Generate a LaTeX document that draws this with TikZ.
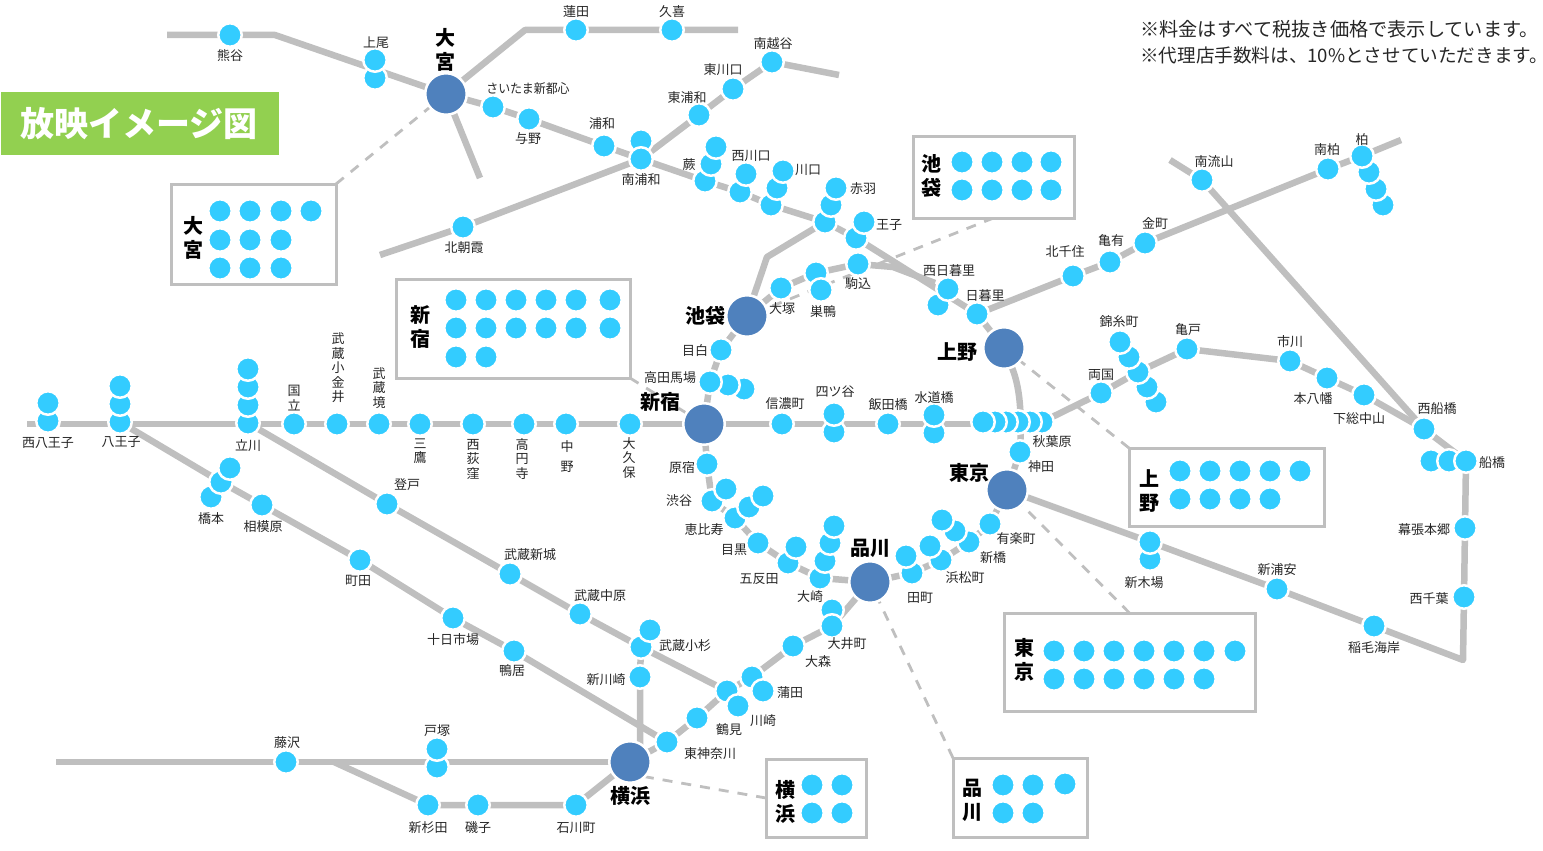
\documentclass[tikz,border=0pt]{standalone}
\usepackage{fontspec}
\setmainfont{Noto Sans CJK JP}
\usetikzlibrary{backgrounds}
\definecolor{railgray}{HTML}{BFBFBF}
\definecolor{dotblue}{HTML}{33CCFF}
\definecolor{hubblue}{HTML}{4F81BD}
\definecolor{titlegreen}{HTML}{92D050}
\tikzset{
 st/.style={circle,draw=white,line width=2.5pt,fill=dotblue,minimum size=23.5pt,inner sep=0pt,outer sep=0pt},
 hubn/.style={circle,draw=white,line width=2.5pt,fill=hubblue,minimum size=41.5pt,inner sep=0pt,outer sep=0pt},
 lab/.style={inner sep=0pt,outer sep=0pt,yshift=-1pt,text=black!85,font=\fontsize{13}{14.5}\selectfont,align=center},
 big/.style={inner sep=0pt,outer sep=0pt,text=black,font=\fontsize{20}{24}\selectfont\bfseries,align=center},
 rail/.style={draw=railgray,line width=6.5pt,line join=round},
 dashl/.style={draw=railgray,line width=2.8pt,dash pattern=on 10pt off 9pt},
 panel/.style={draw=railgray,line width=3pt,fill=white,inner sep=0pt,outer sep=0pt},
 notetext/.style={anchor=west,inner sep=0pt,text=black!85},
}
\begin{document}
\begin{tikzpicture}[x=1pt,y=-1pt]
\useasboundingbox (0,0) rectangle (1543,851);
% stations, lower dots of a stack first
\foreach \n/\x/\y in {
 kumagaya/230/35,ageoB/375/78,ageo/375/60,hasuda/576/30,kuki/672/30,
 saitama/493/107,yono/529/119,urawa/604/146,murB/641/141,mur/641/159,
 kitaasaka/463/227,higura/699/115,higawa/733/89,minkoshi/772/62,
 warA/705/181,warB/711/164,warC/716/147,nkwA/740/192,nkwB/746/174,
 kawA/771/205,kawB/777/188,kawC/783/171,akaA/825/222,akaB/831/205,akaC/836/188,
 ojiA/856/238,ojiB/864/222,komagome/858/264,sugaA/816/273,sugaB/821/290,otsuka/781/288,
 nnipB/938/305,nnipA/948/289,nippori/977/314,
 mejiro/721/350,takaC/744/389,takaB/728/385,takaA/710/382,
 shinano/782/424,yotsuB/834/432,yotsuA/834/414,iida/888/424,suiB/934/433,suiA/934/415,
 akiF/1042/422,akiE/1030/422,akiD/1018/422,akiC/1006/422,akiB/995/422,akiA/983/422,
 kanda/1020/452,
 kitasen/1073/276,kameari/1110/262,kanamachi/1145/243,minkashi/1328/169,
 kasD/1383/205,kasC/1376/189,kasB/1369/172,kasA/1362/156,nagare/1202/180,
 ryogoku/1101/393,kinE/1156/402,kinD/1147/387,kinC/1138/372,kinB/1129/357,kinA/1120/342,
 kameido/1187/349,ichikawa/1290/361,motoyawata/1327/378,shimosa/1364/395,nishifuna/1424/429,
 funaA/1431/461,funaB/1449/461,funaC/1466/461,makuhari/1465/528,nishichiba/1464/597,
 inage/1374/626,shinura/1277/589,kibaB/1150/559,kibaA/1150/542,
 yuraku/990/524,shinbA/969/542,shinbB/955/531,shinbC/942/520,hamaA/941/560,hamaB/930/546,
 tamaA/912/573,tamaB/906/556,osakiA/820/578,osakiB/825/561,osakiC/830/543,osakiD/834/526,
 gotaA/788/563,gotaB/796/547,meguro/758/543,ebiA/735/518,ebiB/749/507,ebiC/763/496,
 shibuA/712/501,shibuB/726/489,harajuku/707/464,
 oiA/832/610,oiB/832/626,omori/793/646,kamaA/752/677,kamaB/763/691,kawsA/727/691,kawsB/738/706,
 tsurumi/697/718,higashik/667/742,
 nishihaB/48/421,nishihaA/48/403,hachiC/120/422,hachiB/120/404,hachiA/120/386,
 tachiD/248/423,tachiC/248/405,tachiB/248/387,tachiA/248/369,
 kunitachi/294/424,koganei/337/424,sakai/379/424,mitaka/420/424,nishiogi/473/424,
 koenji/524/424,nakano/566/424,okubo/630/424,
 hashiA/211/497,hashiB/221/482,hashiC/230/468,sagami/262/505,machida/360/560,
 tokaichi/453/618,kamoi/514/651,noborito/387/504,shinjo/510/574,nakahara/580/614,
 kosugiA/641/647,kosugiB/650/630,shinkawa/640/677,
 fujisawa/286/762,totsuB/437/767,totsuA/437/749,sugita/428/805,isogo/478/805,ishikawa/576/805}{
 \node[st] (\n) at (\x,\y) {};
}
% hubs
\foreach \n/\x/\y in {omiya/446/94,ikebukuro/747/316,shinjuku/704/424,ueno/1004/348,
 tokyo/1007/490,shinagawa/870/582,yokohama/630/762}{
 \node[hubn] (\n) at (\x,\y) {};
}
% free ends and bends
\foreach \n/\x/\y in {kfree/167/35,kbend/275/35,hbend/525/30,hfree/738/30,sfree/480/178,
 afree/380/255,mfree/839/75,ibend/767/257,kmA/893/267,kmB/935/283,
 cA/1017/380,cB/1022/400,nfree/1170/160,kfreeE/1401/140,chfree/1463/660,
 mfreeL/27/424,mfreeR/1000/424,tfreeL/56/762,tbend/334/762,ybend/640/745}{
 \coordinate (\n) at (\x,\y);
}
% panels
\node[panel,minimum width=165pt,minimum height=100pt] (pomiya) at (253.5,234) {};
\node[panel,minimum width=161pt,minimum height=82pt] (pike) at (993.5,177) {};
\node[panel,minimum width=234pt,minimum height=99pt] (pshin) at (513,328.5) {};
\node[panel,minimum width=195pt,minimum height=78pt] (pueno) at (1226.5,487) {};
\node[panel,minimum width=251pt,minimum height=98pt] (ptokyo) at (1129.5,662) {};
\node[panel,minimum width=134pt,minimum height=79pt] (pshina) at (1020,797.5) {};
\node[panel,minimum width=100pt,minimum height=78pt] (pyoko) at (816,798) {};
\foreach \x/\y [count=\i] in {220/211,250/211,281/211,311/211,220/240,250/240,281/240,220/268,250/268,281/268}{\node[st] (da\i) at (\x,\y) {};}
\foreach \x/\y [count=\i] in {962/162,992/162,1022/162,1051/162,962/190,992/190,1022/190,1051/190}{\node[st] (db\i) at (\x,\y) {};}
\foreach \x/\y [count=\i] in {456/300,486/300,516/300,546/300,576/300,610/300,456/328,486/328,516/328,546/328,576/328,610/328,456/357,486/357}{\node[st] (dc\i) at (\x,\y) {};}
\foreach \x/\y [count=\i] in {1180/471,1210/471,1240/471,1270/471,1300/471,1180/499,1210/499,1240/499,1270/499}{\node[st] (dd\i) at (\x,\y) {};}
\foreach \x/\y [count=\i] in {1054/651,1084/651,1114/651,1144/651,1174/651,1204/651,1235/651,1054/679,1084/679,1114/679,1144/679,1174/679,1204/679}{\node[st] (de\i) at (\x,\y) {};}
\foreach \x/\y [count=\i] in {1003/785,1033/785,1065/784,1003/813,1033/813}{\node[st] (df\i) at (\x,\y) {};}
\foreach \x/\y [count=\i] in {812/785,842/785,812/813,842/813}{\node[st] (dg\i) at (\x,\y) {};}
% connectors behind
\begin{scope}[on background layer]
 \draw[dashl] (pomiya.north east) -- (omiya);
 \draw[dashl] (pike.south) -- (ikebukuro);
 \draw[dashl] (pshin.south east) -- (shinjuku);
 \draw[dashl] (pueno.north west) -- (ueno);
 \draw[dashl] (ptokyo.north) -- (tokyo);
 \draw[dashl] (pshina.north west) -- (shinagawa);
 \draw[dashl] (pyoko.west) -- (yokohama.south east);
 \draw[rail] (kfree) -- (kumagaya) -- (kbend) -- (omiya);
 \draw[rail] (omiya) -- (hbend) -- (hasuda) -- (kuki) -- (hfree);
 \draw[rail] (omiya) -- (sfree);
 \draw[rail] (omiya) -- (saitama) -- (yono) -- (urawa) -- (mur) -- (warA) -- (nkwA) -- (kawA) -- (akaA) -- (ojiA) -- (nippori) -- (ueno);
 \draw[rail] (afree) -- (kitaasaka) -- (mur) -- (higura) -- (higawa) -- (minkoshi) -- (mfree);
 \draw[rail] (akaA) -- (ibend) -- (ikebukuro);
 \draw[rail] (ikebukuro) -- (otsuka) -- (sugaA) -- (komagome) -- (kmA) -- (kmB);
 \draw[rail] (ikebukuro) -- (mejiro) -- (takaA) -- (shinjuku);
 \draw[rail] (mfreeL) -- (kunitachi) -- (koganei) -- (sakai) -- (mitaka) -- (nishiogi) -- (koenji) -- (nakano) -- (okubo) -- (shinjuku) -- (shinano) -- (iida) -- (mfreeR);
 \draw[rail] (akiF) -- (ryogoku) -- (kinC) -- (kameido) -- (ichikawa) -- (motoyawata) -- (shimosa) -- (nishifuna) -- (funaC) -- (makuhari) -- (nishichiba) -- (chfree) -- (inage) -- (shinura) -- (kibaA) -- (tokyo);
 \draw[rail] (nfree) -- (nagare) -- (nishifuna);
 \draw[rail] (nippori) -- (kitasen) -- (kameari) -- (kanamachi) -- (minkashi) -- (kasA) -- (kfreeE);
 \draw[rail] (ueno) .. controls (cA) and (cB) .. (kanda) -- (tokyo);
 \draw[rail] (tokyo) -- (yuraku) -- (shinbA) -- (hamaA) -- (tamaA) -- (shinagawa);
 \draw[rail] (shinagawa) -- (osakiA) -- (gotaA) -- (meguro) -- (ebiA) -- (shibuA) -- (harajuku) -- (shinjuku);
 \draw[rail] (shinagawa) -- (oiB) -- (omori) -- (kamaA) -- (kawsA) -- (tsurumi) -- (higashik) -- (yokohama);
 \draw[rail] (tachiD) -- (noborito) -- (shinjo) -- (nakahara) -- (kosugiA) -- (kawsA);
 \draw[rail] (hachiC) -- (hashiB) -- (sagami) -- (machida) -- (tokaichi) -- (kamoi) -- (higashik);
 \draw[rail] (kosugiA) -- (shinkawa) -- (ybend);
 \draw[rail] (tfreeL) -- (fujisawa) -- (yokohama);
 \draw[rail] (tbend) -- (sugita) -- (isogo) -- (ishikawa) -- (yokohama);
\end{scope}
% station labels
\foreach \n/\x/\y/\t in {
 a/230/55/熊谷,b/376/42/上尾,c/576/11/蓮田,d/672/11/久喜,f/528/138/与野,
 g/602/123/浦和,h/641/179/南浦和,i/464/247/北朝霞,j/773/43/南越谷,k/723/69/東川口,l/687/97/東浦和,
 m/689/164/蕨,n/751/155/西川口,o/808/169/川口,p/863/188/赤羽,q/889/224/王子,r/858/283/駒込,
 s/823/311/巣鴨,t/782/308/大塚,u/949/270/西日暮里,v/985/295/日暮里,w/695/350/目白,x/670/377/高田馬場,
 y/785/403/信濃町,z/835/391/四ツ谷,aa/888/404/飯田橋,ab/934/397/水道橋,ac/1052/441/秋葉原,ad/1041/466/神田,
 ae/1214/161/南流山,af/1327/149/南柏,ag/1362/139/柏,ah/1155/223/金町,ai/1111/240/亀有,aj/1065/251/北千住,
 ak/1119/321/錦糸町,al/1188/329/亀戸,am/1101/374/両国,an/1290/341/市川,ao/1313/398/本八幡,ap/1359/418/下総中山,
 aq/1437/408/西船橋,ar/1492/462/船橋,as/1424/529/幕張本郷,at/1429/598/西千葉,au/1374/647/稲毛海岸,
 av/1277/569/新浦安,aw/1144/582/新木場,ax/1016/538/有楽町,ay/993/557/新橋,az/965/577/浜松町,ba/920/597/田町,
 bb/682/467/原宿,bc/679/500/渋谷,bd/704/529/恵比寿,be/734/549/目黒,bf/759/578/五反田,bg/810/596/大崎,
 bh/847/643/大井町,bi/818/661/大森,bj/790/692/蒲田,bk/763/720/川崎,bl/729/729/鶴見,bm/710/753/東神奈川,
 bn/685/645/武蔵小杉,bo/606/679/新川崎,bp/600/595/武蔵中原,bq/530/554/武蔵新城,br/407/484/登戸,
 bs/512/670/鴨居,bt/453/639/十日市場,bu/358/580/町田,bv/263/526/相模原,bw/211/518/橋本,
 bx/48/442/西八王子,by/121/441/八王子,bz/248/445/立川,ca/287/742/藤沢,cb/437/730/戸塚,cc/428/827/新杉田,
 cd/478/827/磯子,ce/576/827/石川町}{
 \node[lab] (lb\n) at (\x,\y) {\t};
}
\node[lab] (lbe) at (528,88) {\scalebox{.92}[1]{さいたま新都心}};
\node[lab] (lvA) at (294,397) {国\\立};
\node[lab] (lvB) at (338,367) {武\\蔵\\小\\金\\井};
\node[lab] (lvC) at (379,387) {武\\蔵\\境};
\node[lab] (lvD) at (420,450) {三\\鷹};
\node[lab] (lvE) at (473,458) {西\\荻\\窪};
\node[lab] (lvF) at (522,458) {高\\円\\寺};
\node[lab,font=\fontsize{13}{20}\selectfont] (lvG) at (567,456) {中\\野};
\node[lab] (lvH) at (629,457) {大\\久\\保};
% big labels
\node[big] (bomiya) at (445,50) {大\\宮};
\node[big] (bike) at (705,316) {池袋};
\node[big] (bshin) at (660,402) {新宿};
\node[big] (bueno) at (957,352) {上野};
\node[big] (btokyo) at (969,473) {東京};
\node[big] (bshina) at (870,548) {品川};
\node[big] (byoko) at (630,796) {横浜};
\node[big] (tomiya) at (193,238) {大\\宮};
\node[big] (tike) at (931,176) {池\\袋};
\node[big] (tshin) at (420,327) {新\\宿};
\node[big] (tueno) at (1149,491) {上\\野};
\node[big] (ttokyo) at (1024,660) {東\\京};
\node[big] (tshina) at (972,800) {品\\川};
\node[big] (tyoko) at (785,802) {横\\浜};
% title and note
\node[fill=titlegreen,minimum width=278pt,minimum height=63pt,inner sep=0pt,outer sep=0pt,text=white,font=\fontsize{34}{36}\selectfont\bfseries] (title) at (140,123.5) {\hspace{-2pt}放映イメージ図};
\node[notetext,font=\fontsize{19.2}{26}\selectfont] (noteA) at (1140,29) {※料金はすべて税抜き価格で表示しています。};
\node[notetext,font=\fontsize{18.6}{26}\selectfont] (noteB) at (1140,55) {※代理店手数料は、10\%とさせていただきます。};
\end{tikzpicture}
\end{document}
